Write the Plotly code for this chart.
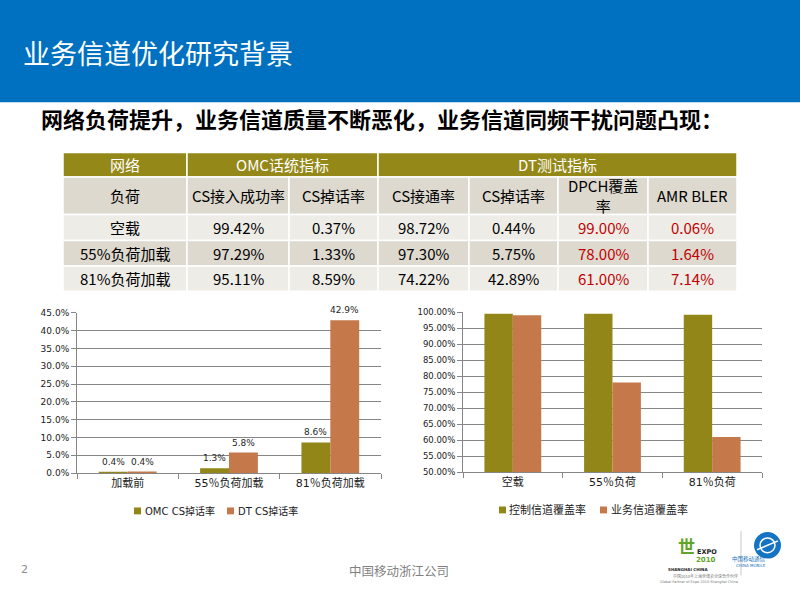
import plotly.graph_objects as go

W, H = 800, 600


def px(x):
    return x / W


def py(y):
    return 1 - y / H


# ---------------- Data ----------------
title_text = "业务信道优化研究背景"
subtitle_text = "网络负荷提升，业务信道质量不断恶化，业务信道同频干扰问题凸现："
footer_company = "中国移动浙江公司"
page_number = "2"

table_group_headers = ["网络", "OMC话统指标", "DT测试指标"]
table_group_spans = [1, 2, 4]
table_col_headers = ["负荷", "CS接入成功率", "CS掉话率", "CS接通率", "CS掉话率", "DPCH覆盖<br>率", "AMR BLER"]
load_states = ["空载", "55%负荷加载", "81%负荷加载"]
omc_cs_access = [99.42, 97.29, 95.11]
omc_cs_drop = [0.37, 1.33, 8.59]
dt_cs_connect = [98.72, 97.30, 74.22]
dt_cs_drop = [0.44, 5.75, 42.89]
dt_dpch_coverage = [99.00, 78.00, 61.00]
dt_amr_bler = [0.06, 1.64, 7.14]
highlight_cols = [5, 6]  # red text columns (DPCH, AMR BLER)

drop_categories = ["加载前", "55％负荷加载", "81％负荷加载"]
drop_series_names = ["OMC CS掉话率", "DT CS掉话率"]
omc_drop_pct = [0.37, 1.33, 8.59]
dt_drop_pct = [0.44, 5.75, 42.89]

cov_categories = ["空载", "55％负荷", "81％负荷"]
cov_series_names = ["控制信道覆盖率", "业务信道覆盖率"]
control_cov_pct = [99.5, 99.5, 99.2]
traffic_cov_pct = [99.0, 78.0, 61.0]

# ---------------- Styles ----------------
BLUE = "#0070C0"
OLIVE = "#928619"
ORANGE = "#C5784A"
HEAD_OLIVE = "#948819"
ROW_DARK = "#DDD9CF"
ROW_LIGHT = "#EEECE7"
RED = "#C00000"
GRID = "#868686"
CJK = "Noto Sans CJK SC"
CHART_FONT = "DejaVu Sans, Noto Sans CJK SC"

fig = go.Figure()

# ---------------- Charts ----------------
fig.add_trace(go.Bar(x=drop_categories, y=omc_drop_pct, name=drop_series_names[0],
                     marker=dict(color=OLIVE, line=dict(width=0)), xaxis="x", yaxis="y"))
fig.add_trace(go.Bar(x=drop_categories, y=dt_drop_pct, name=drop_series_names[1],
                     marker=dict(color=ORANGE, line=dict(width=0)), xaxis="x", yaxis="y"))
fig.add_trace(go.Bar(x=cov_categories, y=control_cov_pct, name=cov_series_names[0],
                     marker=dict(color=OLIVE, line=dict(width=0)), xaxis="x2", yaxis="y2"))
fig.add_trace(go.Bar(x=cov_categories, y=traffic_cov_pct, name=cov_series_names[1],
                     marker=dict(color=ORANGE, line=dict(width=0)), xaxis="x2", yaxis="y2"))

annotations = []
shapes = []

# data labels on left chart
for series, shift in ((omc_drop_pct, -14.5), (dt_drop_pct, 14.5)):
    for cat, v in zip(drop_categories, series):
        annotations.append(dict(x=cat, y=v, xref="x", yref="y", text=f"{v:.1f}%",
                                showarrow=False, xshift=shift, yshift=3, yanchor="bottom",
                                font=dict(family=CHART_FONT, size=9, color="#262626")))


# manual legends
def legend_item(x_sq, x_txt, y, color, label, size):
    shapes.append(dict(type="rect", xref="paper", yref="paper",
                       x0=px(x_sq), x1=px(x_sq + 7), y0=py(y + 3.5), y1=py(y - 3.5),
                       fillcolor=color, line=dict(width=0)))
    annotations.append(dict(x=px(x_txt), y=py(y), xref="paper", yref="paper", text=label,
                            showarrow=False, xanchor="left", yanchor="middle",
                            font=dict(family=CHART_FONT, size=size, color="#1a1a1a")))


legend_item(134, 143, 514.5, OLIVE, drop_series_names[0], 10)
legend_item(227, 236, 514.5, ORANGE, drop_series_names[1], 10)
legend_item(499, 507, 513.5, OLIVE, cov_series_names[0], 11)
legend_item(600, 609, 513.5, ORANGE, cov_series_names[1], 11)

# ---------------- Header ----------------
shapes.append(dict(type="rect", xref="paper", yref="paper", x0=-0.02, x1=1.02, y0=py(99), y1=1.05,
                   fillcolor=BLUE, line=dict(width=0), layer="below"))
annotations.append(dict(x=px(21), y=py(48), xref="paper", yref="paper", text=title_text,
                        showarrow=False, xanchor="left", yanchor="middle",
                        font=dict(family=CJK, size=27, color="white")))
annotations.append(dict(x=px(39), y=py(115), xref="paper", yref="paper",
                        text=f"<b>{subtitle_text}</b>",
                        showarrow=False, xanchor="left", yanchor="middle",
                        font=dict(family=CJK, size=22, color="black")))

# ---------------- Table ----------------
col_x = [63, 187, 289, 378, 469, 558, 648, 737]
row_y = [150, 175, 213, 239.5, 265.5, 291]


def cell(x0, x1, y0, y1, fill, text, color, size=15):
    shapes.append(dict(type="rect", xref="paper", yref="paper",
                       x0=px(x0), x1=px(x1), y0=py(y1), y1=py(y0),
                       fillcolor=fill, line=dict(color="white", width=1.5)))
    annotations.append(dict(x=px((x0 + x1) / 2), y=py((y0 + y1) / 2), xref="paper", yref="paper",
                            text=text, showarrow=False, xanchor="center", yanchor="middle",
                            font=dict(family=CJK, size=size, color=color)))


ci = 0
for label, span in zip(table_group_headers, table_group_spans):
    cell(col_x[ci], col_x[ci + span], row_y[0], row_y[1], HEAD_OLIVE, label, "white")
    ci += span

for j, label in enumerate(table_col_headers):
    cell(col_x[j], col_x[j + 1], row_y[1], row_y[2], ROW_DARK, label, "black")

columns = [omc_cs_access, omc_cs_drop, dt_cs_connect, dt_cs_drop, dt_dpch_coverage, dt_amr_bler]
for i, state in enumerate(load_states):
    fill = ROW_LIGHT if i % 2 == 0 else ROW_DARK
    cell(col_x[0], col_x[1], row_y[i + 2], row_y[i + 3], fill, state, "black")
    for j, colvals in enumerate(columns):
        color = RED if (j + 1) in highlight_cols else "black"
        cell(col_x[j + 1], col_x[j + 2], row_y[i + 2], row_y[i + 3], fill,
             f"{colvals[i]:.2f}%", color)

# ---------------- Footer ----------------
annotations.append(dict(x=px(24), y=py(574), xref="paper", yref="paper", text=page_number,
                        showarrow=False, xanchor="center", yanchor="middle",
                        font=dict(family="DejaVu Sans", size=11, color="#8c8c8c")))
annotations.append(dict(x=px(399), y=py(575), xref="paper", yref="paper", text=footer_company,
                        showarrow=False, xanchor="center", yanchor="middle",
                        font=dict(family=CJK, size=12.5, color="#7f7f7f")))

# logos (approximation)
annotations.append(dict(x=px(697), y=py(550), xref="paper", yref="paper", text="<b>世</b>",
                        showarrow=False, yanchor="middle",
                        font=dict(family=CJK, size=17, color="#5FA52A")))
annotations.append(dict(x=px(719), y=py(562), xref="paper", yref="paper", text="<b>EXPO</b>",
                        showarrow=False, font=dict(family="DejaVu Sans", size=6.5, color="#222")))
annotations.append(dict(x=px(718), y=py(570), xref="paper", yref="paper", text="<b>2010</b>",
                        showarrow=False, font=dict(family="DejaVu Sans", size=7, color="#5FA52A")))
annotations.append(dict(x=px(710), y=py(578.5), xref="paper", yref="paper", text="<b>SHANGHAI CHINA</b>",
                        showarrow=False, font=dict(family="DejaVu Sans", size=4, color="#222")))
shapes.append(dict(type="line", xref="paper", yref="paper", x0=px(741), x1=px(741),
                   y0=py(580), y1=py(535), line=dict(color="#c8c8c8", width=1)))
shapes.append(dict(type="circle", xref="paper", yref="paper", x0=px(754), x1=px(781),
                   y0=py(563), y1=py(536), fillcolor="#1473C2", line=dict(width=0)))
shapes.append(dict(type="circle", xref="paper", yref="paper", x0=px(760), x1=px(775),
                   y0=py(557), y1=py(542), fillcolor="rgba(0,0,0,0)",
                   line=dict(color="white", width=1.5)))
shapes.append(dict(type="line", xref="paper", yref="paper", x0=px(757), x1=px(778),
                   y0=py(554), y1=py(545), line=dict(color="white", width=1.5)))
annotations.append(dict(x=px(768), y=py(569), xref="paper", yref="paper", text="中国移动通信",
                        showarrow=False, font=dict(family=CJK, size=5.5, color="#1473C2")))
annotations.append(dict(x=px(768), y=py(575), xref="paper", yref="paper", text="CHINA MOBILE",
                        showarrow=False, font=dict(family="DejaVu Sans", size=4, color="#1473C2")))
annotations.append(dict(x=px(740), y=py(586), xref="paper", yref="paper",
                        text="中国2010年上海世博会全球合作伙伴",
                        showarrow=False, font=dict(family=CJK, size=4, color="#777")))
annotations.append(dict(x=px(740), y=py(591), xref="paper", yref="paper",
                        text="Global Partner of Expo 2010 Shanghai China",
                        showarrow=False, font=dict(family="DejaVu Sans", size=3.5, color="#777")))

axis_common = dict(showline=True, linecolor=GRID, linewidth=1, zeroline=False, fixedrange=True)

fig.update_layout(
    width=W, height=H,
    margin=dict(l=0, r=0, t=0, b=0),
    paper_bgcolor="white", plot_bgcolor="white",
    barmode="group", bargap=0.43, bargroupgap=0,
    showlegend=False,
    xaxis=dict(domain=[px(77), px(381)], anchor="y", type="category",
               tickson="boundaries", ticks="outside", ticklen=5, tickcolor=GRID,
               showgrid=False, tickfont=dict(family=CHART_FONT, size=11, color="#1a1a1a"),
               **axis_common),
    yaxis=dict(domain=[py(476), py(313)], anchor="x", range=[0, 45], dtick=5,
               tickformat=".1f", ticksuffix="%", ticks="outside", ticklen=5, tickcolor=GRID,
               showgrid=True, gridcolor=GRID, gridwidth=1,
               tickfont=dict(family=CHART_FONT, size=9, color="#1a1a1a"), **axis_common),
    xaxis2=dict(domain=[px(463), px(762)], anchor="y2", type="category",
                tickson="boundaries", ticks="outside", ticklen=5, tickcolor=GRID,
                showgrid=False, tickfont=dict(family=CHART_FONT, size=11, color="#1a1a1a"),
                **axis_common),
    yaxis2=dict(domain=[py(475), py(312.3)], anchor="x2", range=[50, 100], dtick=5,
                tickformat=".2f", ticksuffix="%", ticks="outside", ticklen=5, tickcolor=GRID,
                showgrid=True, gridcolor=GRID, gridwidth=1,
                tickfont=dict(family=CHART_FONT, size=8.5, color="#1a1a1a"), **axis_common),
    shapes=shapes,
    annotations=annotations,
)

fig.write_html(
    "out.html",
    config={"displayModeBar": False},
    post_script="document.body.style.margin='0';document.body.style.overflow='hidden';",
)
